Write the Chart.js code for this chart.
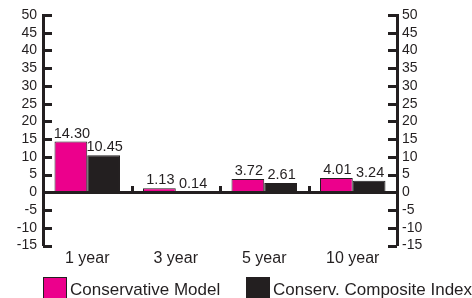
<!DOCTYPE html>
<html>
<head>
<meta charset="utf-8">
<script src="https://cdn.jsdelivr.net/npm/chart.js@4.4.1/dist/chart.umd.min.js"></script>
<style>
  html, body { margin: 0; padding: 0; background: #fff; }
  #wrap { width: 472px; height: 298px; }
</style>
</head>
<body>
<div id="wrap"><canvas id="chart" width="472" height="298"></canvas></div>
<script>
// Chart data
const categories = ['1 year', '3 year', '5 year', '10 year'];
const modelReturns = [14.30, 1.13, 3.72, 4.01];
const indexReturns = [10.45, 0.14, 2.61, 3.24];
const seriesNames = ['Conservative Model', 'Conserv. Composite Index'];
const yMin = -15;
const yMax = 50;
const yStep = 5;

const PINK = '#ec008c';
const DARK = '#231f20';
const FONT = "'Liberation Sans', Arial, sans-serif";

// inward tick marks, zero line and group separators
const axisDecor = {
    id: 'axisDecor',
    afterDatasetsDraw(chart) {
        const ctx = chart.ctx;
        const area = chart.chartArea;
        const y = chart.scales.y;
        const x = chart.scales.x;
        ctx.save();
        ctx.fillStyle = DARK;
        y.ticks.forEach(t => {
            const py = Math.round(y.getPixelForValue(t.value));
            ctx.fillRect(area.left, py - 1, 9, 3);
            ctx.fillRect(area.right - 9, py - 1, 9, 3);
        });
        const zero = Math.round(y.getPixelForValue(0));
        ctx.fillRect(area.left, zero - 1, area.right - area.left, 3);
        for (let i = 0; i < categories.length - 1; i++) {
            const bx = Math.round((x.getPixelForTick(i) + x.getPixelForTick(i + 1)) / 2);
            ctx.fillRect(bx - 1, zero - 6, 3, 6);
        }
        ctx.restore();
    }
};

// value labels above bars
const valueLabels = {
    id: 'valueLabels',
    afterDatasetsDraw(chart) {
        const ctx = chart.ctx;
        ctx.save();
        ctx.font = '14.5px ' + FONT;
        ctx.fillStyle = DARK;
        ctx.textAlign = 'center';
        ctx.textBaseline = 'alphabetic';
        chart.data.datasets.forEach((ds, di) => {
            chart.getDatasetMeta(di).data.forEach((bar, i) => {
                ctx.fillText(ds.data[i].toFixed(2), bar.x + 1, bar.y - 4);
            });
        });
        ctx.restore();
    }
};

// legend along the bottom, built from the datasets
const bottomLegend = {
    id: 'bottomLegend',
    afterDraw(chart) {
        const ctx = chart.ctx;
        const starts = [43, 246];
        ctx.save();
        ctx.font = '17px ' + FONT;
        ctx.textBaseline = 'alphabetic';
        chart.data.datasets.forEach((ds, i) => {
            const bx = starts[i];
            ctx.fillStyle = DARK;
            ctx.fillRect(bx, 277, 24, 22);
            ctx.fillStyle = ds.backgroundColor;
            ctx.fillRect(bx + 1, 278, 22, 21);
            ctx.fillStyle = DARK;
            ctx.fillText(ds.label, bx + 27, 295);
        });
        ctx.restore();
    }
};

new Chart(document.getElementById('chart').getContext('2d'), {
    type: 'bar',
    data: {
        labels: categories,
        datasets: [
            {
                label: seriesNames[0],
                data: modelReturns,
                backgroundColor: PINK,
                borderColor: DARK,
                borderWidth: 1,
                yAxisID: 'y'
            },
            {
                label: seriesNames[1],
                data: indexReturns,
                backgroundColor: DARK,
                borderColor: DARK,
                borderWidth: 1,
                yAxisID: 'y'
            }
        ]
    },
    options: {
        responsive: false,
        animation: false,
        devicePixelRatio: 1,
        layout: { padding: { top: 15, left: 0, right: 0, bottom: 0 } },
        datasets: {
            bar: { categoryPercentage: 0.74, barPercentage: 1 }
        },
        plugins: {
            tooltip: { enabled: false },
            legend: { display: false }
        },
        scales: {
            x: {
                grid: { display: false, drawTicks: false },
                border: { display: false },
                ticks: {
                    color: DARK,
                    padding: 3,
                    font: { family: FONT, size: 16 }
                },
                afterFit(scale) { scale.height = 52.5; }
            },
            y: {
                position: 'left',
                min: yMin,
                max: yMax,
                grid: { display: false, drawTicks: false },
                border: { display: true, width: 3, color: DARK },
                ticks: {
                    stepSize: yStep,
                    autoSkip: false,
                    color: DARK,
                    padding: 6,
                    font: { family: FONT, size: 14 }
                },
                afterFit(scale) { scale.width = 43; }
            },
            y2: {
                position: 'right',
                min: yMin,
                max: yMax,
                grid: { display: false, drawTicks: false },
                border: { display: true, width: 3, color: DARK },
                ticks: {
                    stepSize: yStep,
                    autoSkip: false,
                    color: DARK,
                    padding: 5,
                    font: { family: FONT, size: 14 }
                },
                afterFit(scale) { scale.width = 75; }
            }
        }
    },
    plugins: [axisDecor, valueLabels, bottomLegend]
});
</script>
</body>
</html>
